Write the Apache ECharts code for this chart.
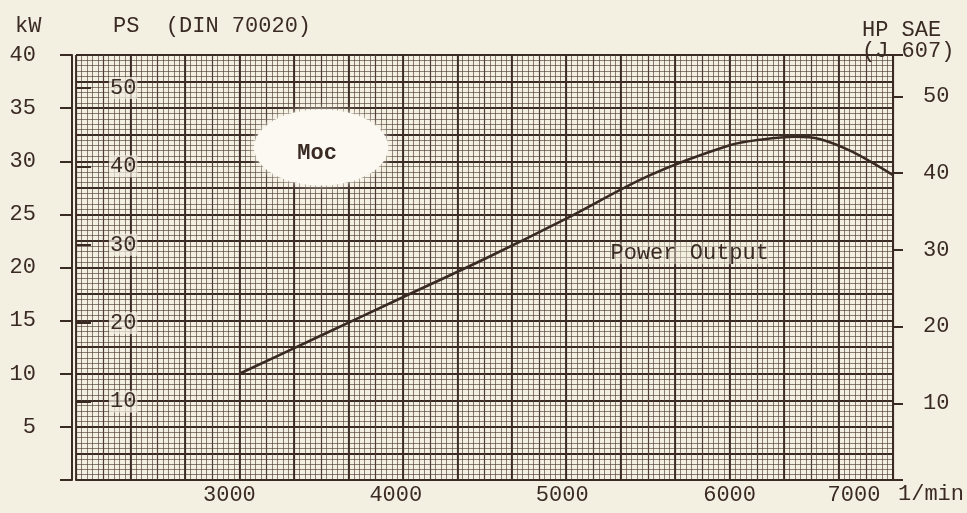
<!DOCTYPE html>
<html><head><meta charset="utf-8">
<script src="https://cdn.jsdelivr.net/npm/echarts@6/dist/echarts.min.js"></script>
<style>html,body{margin:0;padding:0;background:#f4f0e1;}#c{width:967px;height:513px;}</style>
</head><body><div id="c"></div>
<script>
// ---- data ----
const rpm      = [3000, 3500, 4000, 4500, 5000, 5500, 6000, 6200, 6400, 6550, 6750, 7000];
const powerKW  = [10.0, 13.6, 17.2, 20.8, 24.6, 28.6, 31.5, 32.05, 32.3, 32.1, 30.9, 28.7];
const xTicks   = [3000, 4000, 5000, 6000, 7000];
const kwTicks  = [5, 10, 15, 20, 25, 30, 35, 40];
const psTicks  = [10, 20, 30, 40, 50];
const hpTicks  = [10, 20, 30, 40, 50];
const mocNote  = [3500, 31.3];
const curveNote = [5756, 21.35];

const INK = '#3a2a24';
const MID = '#54433c';
const MINOR = 'rgba(75,58,50,0.8)';
const BG = '#f4f0e1';
const FONT = '"Liberation Mono", "DejaVu Sans Mono", monospace';

const xShift = {3000: 20, 4000: 14, 5000: 8, 6000: 0, 7000: 78};
const rich = {};
xTicks.forEach(v => { rich['s' + v] = {fontFamily: FONT, fontSize: 22, color: INK, padding: [0, xShift[v], 0, 0]}; });

const chart = echarts.init(document.getElementById('c'), null, {renderer: 'canvas'});
const hidden = {axisLine: {show: false}, axisTick: {show: false}, axisLabel: {show: false}};

chart.setOption({
  animation: false,
  backgroundColor: BG,
  textStyle: {fontFamily: FONT, color: INK},
  title: [
    {text: 'kW', left: 10, top: 10, textStyle: {fontFamily: FONT, fontSize: 22, fontWeight: 'normal', color: INK}},
    {text: 'PS  (DIN 70020)', left: 108, top: 10, textStyle: {fontFamily: FONT, fontSize: 22, fontWeight: 'normal', color: INK}},
    {text: 'HP SAE\n(J 607)', left: 857, top: 15, textStyle: {fontFamily: FONT, fontSize: 22, fontWeight: 'normal', color: INK, lineHeight: 21}}
  ],
  grid: {left: 76, right: 72, top: 55, bottom: 33, containLabel: false},
  xAxis: [
    {type: 'value', min: 2000, max: 7000, interval: 1000, position: 'bottom',
     axisLine: {show: true, onZero: false, lineStyle: {color: INK, width: 2}},
     axisTick: {show: false}, splitLine: {show: false},
     axisLabel: {margin: 4, formatter: v => xTicks.includes(v) ? '{s' + v + '|' + v + '}' : '', rich: rich},
     name: '1/min', nameLocation: 'end', nameGap: 5,
     nameTextStyle: {fontFamily: FONT, fontSize: 22, color: INK, verticalAlign: 'top', padding: [3, 0, 0, 0]}},
    Object.assign({type: 'value', min: 2000, max: 7000, interval: 1000 / 6, position: 'bottom',
     splitLine: {show: true, lineStyle: {color: MID, width: 1.2}}}, hidden),
    Object.assign({type: 'value', min: 2000, max: 7000, interval: 1000 / 3, position: 'bottom',
     splitLine: {show: true, lineStyle: {color: INK, width: 1.8}},
     minorTick: {show: false, splitNumber: 10},
     minorSplitLine: {show: true, lineStyle: {color: MINOR, width: 0.8}}}, hidden)
  ],
  yAxis: [
    {type: 'value', position: 'left', offset: 4, min: 0, max: 40, interval: 5,
     axisLine: {show: true, lineStyle: {color: INK, width: 2}},
     axisTick: {show: true, length: 12, lineStyle: {color: INK, width: 2}},
     axisLabel: {margin: 36, fontFamily: FONT, fontSize: 22, color: INK,
                 formatter: v => kwTicks.includes(v) ? String(v) : ''},
     splitLine: {show: false}},
    Object.assign({type: 'value', position: 'left', min: 0, max: 40, interval: 2.5,
     splitLine: {show: true, lineStyle: {color: INK, width: 1.8}},
     minorTick: {show: false, splitNumber: 5},
     minorSplitLine: {show: true, lineStyle: {color: MINOR, width: 0.8}}}, hidden),
    {type: 'value', position: 'left', offset: 0, min: 0, max: 54.2, interval: 10,
     axisLine: {show: false},
     axisTick: {show: true, inside: true, length: 15, lineStyle: {color: INK, width: 2}},
     axisLabel: {inside: true, margin: 33, fontFamily: FONT, fontSize: 22, color: INK,
                 backgroundColor: 'rgba(244,240,225,0.7)', padding: [0, 1],
                 formatter: v => psTicks.includes(v) ? String(v) : ''},
     splitLine: {show: false}},
    {type: 'value', position: 'right', offset: 0, min: 0, max: 55.4, interval: 10,
     axisLine: {show: true, lineStyle: {color: INK, width: 2}},
     axisTick: {show: true, length: 10, lineStyle: {color: INK, width: 2}},
     axisLabel: {margin: 30, fontFamily: FONT, fontSize: 22, color: INK,
                 formatter: v => hpTicks.includes(v) ? String(v) : ''},
     splitLine: {show: false}}
  ],
  series: [
    {type: 'scatter', xAxisIndex: 0, yAxisIndex: 0, silent: true, z: 3,
     data: [mocNote], symbol: 'circle', symbolSize: [134, 76],
     itemStyle: {color: '#fbf9f1', opacity: 1, shadowBlur: 8, shadowColor: 'rgba(251,249,241,0.95)'},
     label: {show: true, position: 'inside', formatter: 'Moc', offset: [-4, 6],
             fontFamily: FONT, fontSize: 22, fontWeight: 'bold', color: INK}},
    {type: 'scatter', xAxisIndex: 0, yAxisIndex: 0, silent: true, z: 4,
     data: [curveNote], symbolSize: 1, itemStyle: {color: 'rgba(0,0,0,0)', opacity: 1},
     label: {show: true, position: 'inside', formatter: 'Power Output',
             fontFamily: FONT, fontSize: 22, color: INK,
             backgroundColor: 'rgba(244,240,225,0.45)'}},
    {type: 'line', name: 'Power Output', xAxisIndex: 0, yAxisIndex: 0, z: 5,
     data: rpm.map((r, i) => [r, powerKW[i]]), smooth: 0.3, showSymbol: false, silent: true,
     lineStyle: {color: INK, width: 2.6}}
  ]
});
</script></body></html>
